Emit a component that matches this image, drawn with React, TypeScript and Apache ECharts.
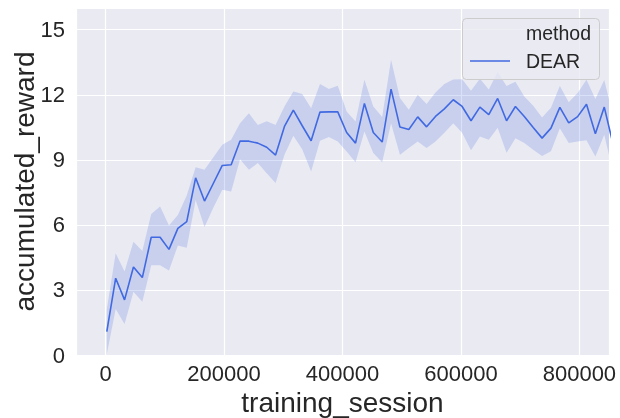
import React, { useEffect, useRef } from "react";
import * as echarts from "echarts";

const xValues = [
  2000, 17000, 32000, 47000, 62000, 77000, 92000, 107000, 122000, 137000,
  152000, 167000, 182000, 197000, 212000, 227000, 242000, 257000, 272000, 287000,
  302000, 317000, 332000, 347000, 362000, 377000, 392000, 407000, 422000, 437000,
  452000, 467000, 482000, 497000, 512000, 527000, 542000, 557000, 572000, 587000,
  602000, 617000, 632000, 647000, 662000, 677000, 692000, 707000, 722000, 737000,
  752000, 767000, 782000, 797000, 812000, 827000, 842000, 857000,
];

const meanReward = [
  1.08, 3.54, 2.54, 4.06, 3.57, 5.43, 5.43, 4.87, 5.84, 6.15,
  8.17, 7.1, 7.92, 8.74, 8.77, 9.87, 9.86, 9.77, 9.58, 9.22,
  10.54, 11.29, 10.57, 9.88, 11.2, 11.21, 11.21, 10.26, 9.77, 11.6,
  10.26, 9.82, 12.26, 10.51, 10.4, 10.98, 10.52, 11.0, 11.35, 11.77,
  11.46, 10.8, 11.43, 11.08, 11.83, 10.8, 11.46, 11.0, 10.49, 10.0,
  10.46, 11.42, 10.7, 10.99, 11.56, 10.2, 11.43, 9.7,
];

const upperReward = [
  2.1, 4.69, 3.85, 5.22, 4.8, 6.5, 6.85, 5.97, 6.45, 7.35,
  8.66, 8.54, 9.12, 9.69, 9.92, 10.69, 11.15, 10.6, 10.78, 10.6,
  11.46, 12.15, 12.03, 11.38, 12.49, 12.26, 12.41, 11.23, 10.77, 12.69,
  11.46, 10.97, 13.61, 11.85, 11.31, 12.0, 11.57, 12.1, 12.5, 12.7,
  12.72, 12.18, 12.74, 12.24, 13.05, 12.4, 12.6, 11.92, 11.49, 10.95,
  11.4, 12.4, 11.65, 12.08, 12.69, 11.8, 12.68, 11.0,
];

const lowerReward = [
  0.05, 2.12, 1.43, 2.92, 2.45, 4.14, 4.14, 3.9, 5.05, 4.95,
  7.15, 5.9, 6.8, 7.62, 7.54, 9.03, 8.54, 8.85, 8.38, 7.93,
  9.23, 10.11, 9.49, 8.46, 9.88, 10.05, 9.85, 9.38, 8.89, 10.31,
  9.31, 8.89, 10.69, 9.23, 9.54, 9.85, 9.54, 9.85, 10.25, 10.69,
  10.25, 9.44, 10.08, 9.92, 10.48, 9.32, 10.0, 9.77, 9.46, 9.18,
  9.4, 10.45, 9.77, 9.85, 9.9, 9.15, 10.15, 8.4,
];

const seriesName = "DEAR";
const legendTitle = "method";
const xName = "training_session";
const yName = "accumulated_reward";

const LINE_COLOR = "#4169E1";
const FONT = "'Liberation Sans', Arial, sans-serif";
const TEXT_COLOR = "#262626";

// clip a pixel-space polyline (sorted by x) to [xMin, xMax]
function clipPolyline(pts: number[][], xMin: number, xMax: number): number[][] {
  const out: number[][] = [];
  for (let i = 0; i < pts.length; i++) {
    const p = pts[i];
    const inside = p[0] >= xMin && p[0] <= xMax;
    if (i > 0) {
      const q = pts[i - 1];
      const qInside = q[0] >= xMin && q[0] <= xMax;
      if (qInside && !inside && p[0] > xMax) {
        const t = (xMax - q[0]) / (p[0] - q[0]);
        out.push([xMax, q[1] + t * (p[1] - q[1])]);
      }
    }
    if (inside) out.push(p);
  }
  return out;
}

export default function App() {
  const ref = useRef<HTMLDivElement>(null);

  useEffect(() => {
    if (!ref.current) return;
    const chart = echarts.init(ref.current, undefined, { renderer: "svg" });

    const meanData = xValues.map((x, i) => [x, meanReward[i]]);
    const bandData = xValues.map((x, i) => [x, lowerReward[i], upperReward[i]]);

    chart.setOption({
      animation: false,
      grid: {
        left: 76,
        right: 11,
        top: 8,
        bottom: 63,
        show: true,
        backgroundColor: "#EAEAF2",
        borderWidth: 0,
        containLabel: false,
        outerBoundsMode: "none",
      },
      xAxis: {
        type: "value",
        min: -50000,
        max: 850000,
        splitNumber: 5,
        axisLine: { show: false },
        axisTick: { show: false },
        splitLine: { show: true, lineStyle: { color: "#ffffff", width: 1.2 } },
        axisLabel: {
          fontSize: 22,
          color: TEXT_COLOR,
          fontFamily: FONT,
          margin: 7,
          showMinLabel: false,
          showMaxLabel: false,
          formatter: (v: number) => String(v),
        },
        name: xName,
        nameLocation: "middle",
        nameGap: 33,
        nameMoveOverlap: false,
        nameTextStyle: { fontSize: 28, color: TEXT_COLOR, fontFamily: FONT },
      },
      yAxis: {
        type: "value",
        min: 0,
        max: 16,
        interval: 3,
        axisLine: { show: false },
        axisTick: { show: false },
        splitLine: { show: true, lineStyle: { color: "#ffffff", width: 1.2 } },
        axisLabel: {
          fontSize: 22,
          color: TEXT_COLOR,
          fontFamily: FONT,
          margin: 11,
          showMaxLabel: false,
        },
        name: yName,
        nameLocation: "middle",
        nameGap: 38,
        nameMoveOverlap: false,
        nameRotate: 90,
        nameTextStyle: { fontSize: 28, color: TEXT_COLOR, fontFamily: FONT },
      },
      series: [
        {
          name: "band",
          type: "custom",
          data: bandData,
          silent: true,
          clip: true,
          encode: { x: 0, y: [1, 2] },
          renderItem: (params: any, api: any) => {
            if (params.dataIndex !== 0) return null;
            const cs = params.coordSys;
            const xMin = cs.x;
            const xMax = cs.x + cs.width;
            const upperPts = bandData.map((d) => api.coord([d[0], d[2]]));
            const lowerPts = bandData.map((d) => api.coord([d[0], d[1]]));
            const up = clipPolyline(upperPts, xMin, xMax);
            const lo = clipPolyline(lowerPts, xMin, xMax);
            const points = up.concat(lo.slice().reverse());
            return {
              type: "polygon",
              shape: { points },
              style: { fill: "rgba(65,105,225,0.2)", stroke: "none" },
            };
          },
          z: 2,
        },
        {
          name: seriesName,
          type: "line",
          data: meanData,
          symbol: "none",
          lineStyle: { color: LINE_COLOR, width: 1.6 },
          itemStyle: { color: LINE_COLOR },
          clip: true,
          z: 5,
        },
      ],
      graphic: [
        {
          type: "rect",
          left: 462,
          top: 18,
          shape: { width: 137, height: 61, r: 4 },
          style: { fill: "rgba(234,234,242,0.8)", stroke: "#cccccc", lineWidth: 1 },
          z: 10,
        },
        {
          type: "text",
          x: 526,
          y: 33,
          style: {
            text: legendTitle,
            fontSize: 19.5,
            fontFamily: FONT,
            fill: TEXT_COLOR,
            textVerticalAlign: "middle",
          },
          z: 11,
        },
        {
          type: "line",
          shape: { x1: 470, y1: 61, x2: 510, y2: 61 },
          style: { stroke: LINE_COLOR, lineWidth: 1.6 },
          z: 11,
        },
        {
          type: "text",
          x: 526,
          y: 61,
          style: {
            text: seriesName,
            fontSize: 19.5,
            fontFamily: FONT,
            fill: TEXT_COLOR,
            textVerticalAlign: "middle",
          },
          z: 11,
        },
      ],
    });

    return () => chart.dispose();
  }, []);

  return (
    <div
      ref={ref}
      style={{ position: "fixed", left: 0, top: 0, width: 620, height: 418 }}
    />
  );
}
